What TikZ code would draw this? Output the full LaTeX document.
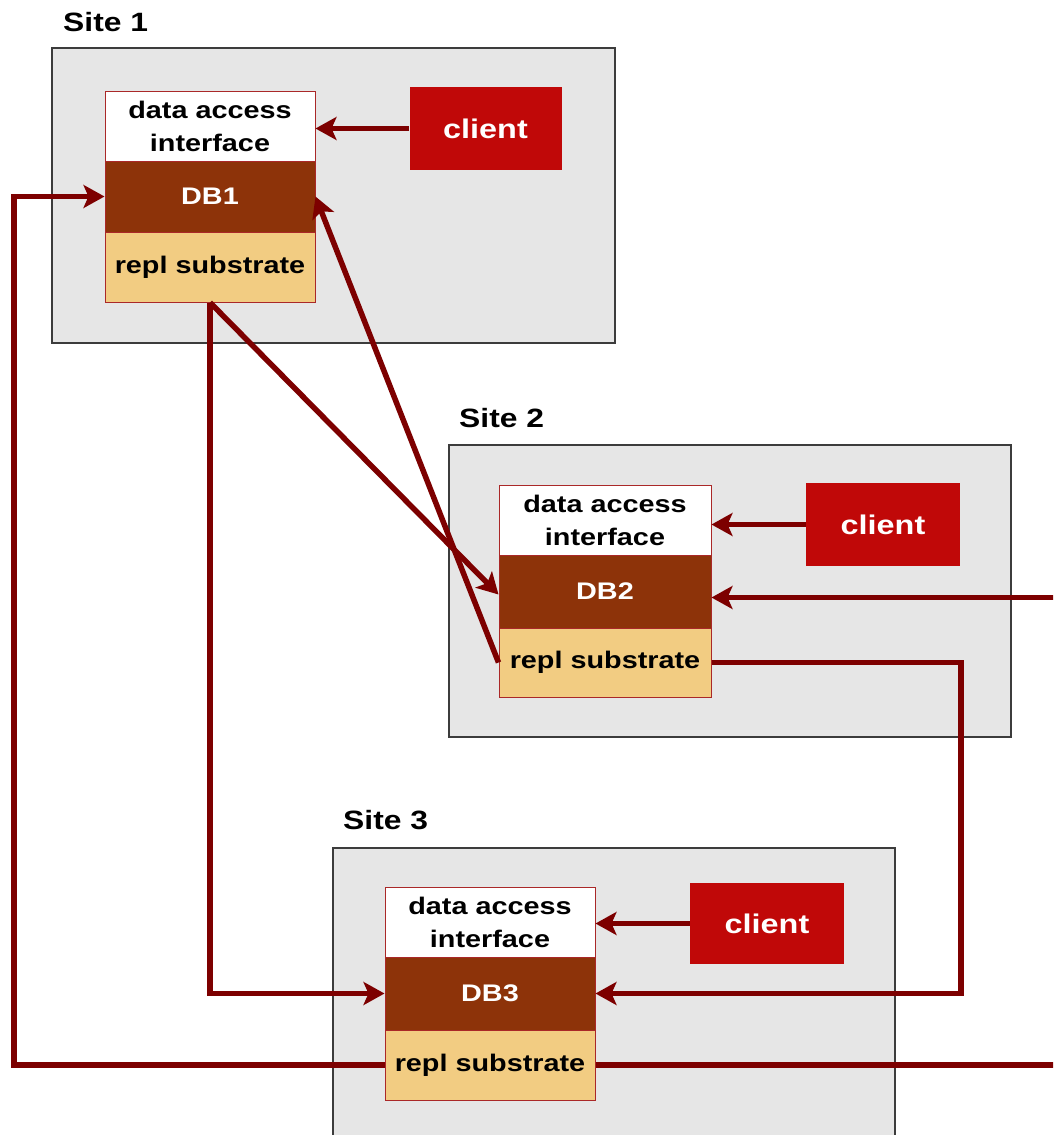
\documentclass[tikz,border=0pt]{standalone}
\usepackage{fontspec}
\setmainfont{Liberation Sans}[FakeStretch=1.2]
\usetikzlibrary{arrows.meta}
\definecolor{wire}{RGB}{125,0,0}
\definecolor{sitefill}{RGB}{230,230,230}
\definecolor{siteline}{RGB}{60,60,60}
\definecolor{dbfill}{RGB}{141,51,9}
\definecolor{replfill}{RGB}{242,204,130}
\definecolor{clientfill}{RGB}{192,8,8}
\definecolor{stackline}{RGB}{170,40,40}
\tikzset{
  sitebox/.style={fill=sitefill,draw=siteline,line width=1.5pt},
  sitelabel/.style={anchor=west,inner sep=0pt,font=\bfseries\fontsize{26.5}{30}\selectfont},
  layer/.style={draw=stackline,line width=1pt,minimum width=210pt,inner sep=0pt,align=center,
     font=\bfseries\fontsize{24}{33}\selectfont},
  daibox/.style={layer,fill=white,text=black,minimum height=70pt},
  dbbox/.style={layer,fill=dbfill,text=white,minimum height=71pt},
  replbox/.style={layer,fill=replfill,text=black,minimum height=70pt},
  clientbox/.style={fill=clientfill,text=white,minimum width=152pt,minimum height=83pt,inner sep=0pt,
     font=\bfseries\fontsize{27}{30}\selectfont},
  wirel/.style={draw=wire,line width=5.5pt},
  arr/.style={wirel,-{Stealth[length=21pt,width=23pt,inset=5pt]}}
}
\begin{document}
\begin{tikzpicture}[x=1pt,y=-1pt]
\useasboundingbox (0,0) rectangle (1053,1135);
\clip (0,0) rectangle (1053,1135);
\fill[white] (0,0) rectangle (1053,1135);
% sites
\draw[sitebox] (52,48) rectangle (615,343);
\draw[sitebox] (449,445) rectangle (1011,737);
\draw[sitebox] (333,848) rectangle (895,1150);
\node[sitelabel] (lab1) at (63,22) {Site 1};
\node[sitelabel] (lab2) at (459,418) {Site 2};
\node[sitelabel] (lab3) at (343,820) {Site 3};
% stack 1
\node[daibox] (dai1) at (210,126) {data access\\interface};
\node[dbbox] (db1) at (210,196.5) {DB1};
\node[replbox] (repl1) at (210,267) {repl substrate};
\node[clientbox] (c1) at (485.5,128.5) {client};
% stack 2
\node[daibox,minimum width=212pt] (dai2) at (605,520) {data access\\interface};
\node[dbbox,minimum width=212pt,minimum height=73pt] (db2) at (605,591.5) {DB2};
\node[replbox,minimum width=212pt,minimum height=69pt] (repl2) at (605,662.5) {repl substrate};
\node[clientbox,minimum width=154pt] (c2) at (883,524.5) {client};
% stack 3
\node[daibox] (dai3) at (490,922) {data access\\interface};
\node[dbbox,minimum height=73pt] (db3) at (490,993.5) {DB3};
\node[replbox] (repl3) at (490,1065) {repl substrate};
\node[clientbox,minimum width=154pt,minimum height=81pt] (c3) at (767,923.5) {client};
% client arrows
\draw[arr] (c1.west) -- (c1.west -| dai1.east);
\draw[arr] (c2.west) -- (c2.west -| dai2.east);
\draw[arr] (c3.west) -- (c3.west -| dai3.east);
% replication connectors
\coordinate (r2turn) at (961,662.5);
\coordinate (leftturn) at (14,1065);
\coordinate (rightturn) at (1075,1065);
\draw[arr] (repl1.south) -- ([yshift=-3pt]db2.west);
\draw[arr] (repl1.south) |- (db3.west);
\draw[arr] (repl2.west) -- (db1.east);
\draw[arr] (repl2.east) -- (r2turn) |- (db3.east);
\draw[arr] (repl3.west) -- (leftturn) |- (db1.west);
\draw[arr] (repl3.east) -- (rightturn) |- ([yshift=-6pt]db2.east);
\end{tikzpicture}
\end{document}
